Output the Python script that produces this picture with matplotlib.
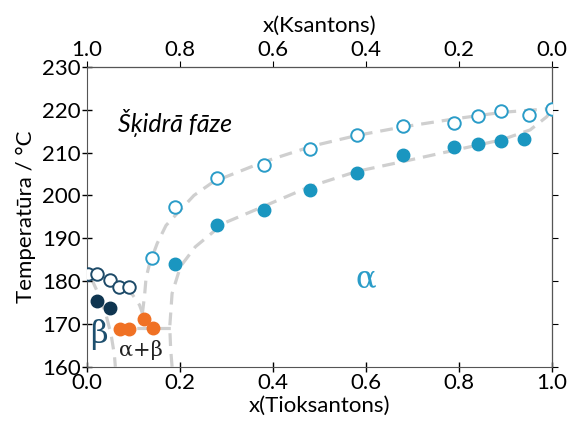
import matplotlib.pyplot as plt

# measured points
liq_alpha_x = [0.14, 0.19, 0.28, 0.38, 0.48, 0.58, 0.68, 0.79, 0.84, 0.89, 0.95, 1.00]
liq_alpha_T = [185.5, 197.3, 204.0, 207.1, 210.9, 214.0, 216.1, 216.9, 218.5, 219.7, 218.9, 220.3]
sol_alpha_x = [0.19, 0.28, 0.38, 0.48, 0.58, 0.68, 0.79, 0.84, 0.89, 0.94]
sol_alpha_T = [184.0, 193.0, 196.7, 201.2, 205.3, 209.4, 211.3, 211.9, 212.8, 213.2]
liq_beta_x = [0.003, 0.021, 0.050, 0.069, 0.090]
liq_beta_T = [181.6, 181.6, 180.2, 178.7, 178.7]
sol_beta_x = [0.021, 0.050]
sol_beta_T = [175.3, 173.8]
eut_x = [0.071, 0.091, 0.122, 0.141]
eut_T = [168.7, 168.7, 171.1, 169.0]

# guide curves
curveA_x = [0.119, 0.124, 0.127, 0.134, 0.151, 0.170, 0.194, 0.230, 0.272, 0.379, 0.487, 0.580, 0.679, 0.792, 0.892, 1.0]
curveA_T = [172.3, 176.8, 180.7, 183.8, 188.8, 193.0, 195.8, 200.0, 203.2, 207.8, 211.6, 214.0, 216.0, 217.9, 219.4, 220.3]
curveB_x = [0.183, 0.180, 0.178, 0.183, 0.201, 0.233, 0.294, 0.379, 0.480, 0.580, 0.679, 0.792, 0.892, 0.953, 0.989, 1.0]
curveB_T = [160.0, 164.0, 169.3, 177.1, 183.4, 188.0, 193.5, 197.4, 202.1, 205.6, 207.9, 210.6, 213.0, 215.3, 218.4, 220.3]
curveC_x = [0.0, 0.040, 0.066, 0.098, 0.113, 0.120]
curveC_T = [182.0, 181.0, 179.5, 176.8, 174.4, 172.3]
curveD_x = [0.009, 0.027, 0.041, 0.052, 0.059, 0.061]
curveD_T = [180.7, 176.4, 172.1, 167.4, 162.7, 160.0]
eut_line_x = [0.063, 0.183]
eut_line_T = [169.0, 169.0]

plt.rcParams['font.family'] = ['Lato', 'DejaVu Sans']
plt.rcParams['font.size'] = 16

fig = plt.figure(figsize=(5.7, 4.25), dpi=100)
ax = fig.add_axes([0.1526, 0.1372, 0.8158, 0.7052])

dash = dict(color='#cfcfcf', lw=2.3, ls=(0, (4, 2.5)), zorder=1)
for cx, cT in [(curveA_x, curveA_T), (curveB_x, curveB_T), (curveC_x, curveC_T),
               (curveD_x, curveD_T), (eut_line_x, eut_line_T)]:
    ax.plot(cx, cT, **dash)

ax.plot(liq_alpha_x, liq_alpha_T, 'o', ms=9, mfc='white', mec='#2a9cc8', mew=1.4, ls='none', zorder=3)
ax.plot(sol_alpha_x, sol_alpha_T, 'o', ms=9, color='#1a96c0', ls='none', zorder=3)
ax.plot(liq_beta_x, liq_beta_T, 'o', ms=9, mfc='white', mec='#1d4a68', mew=1.4, ls='none', zorder=3)
ax.plot(sol_beta_x, sol_beta_T, 'o', ms=9, color='#0f3550', ls='none', zorder=3)
ax.plot(eut_x, eut_T, 'o', ms=9, color='#f07124', ls='none', zorder=3)

ax.text(0.067, 217.0, 'Šķidrā fāze', fontsize=18, style='italic', va='center', ha='left')
ax.text(0.60, 180.5, 'α', fontsize=22, color='#2a9cc8', ha='center', va='center', family='DejaVu Serif')
ax.text(0.025, 167.5, 'β', fontsize=22, color='#1d4f6e', ha='center', va='center', family='DejaVu Serif')
ax.text(0.115, 164.0, 'α+β', fontsize=15, color='#222222', ha='center', va='center', family='DejaVu Serif')

ax.set_xlim(0, 1)
ax.set_ylim(160, 230)
ax.set_xticks([0, 0.2, 0.4, 0.6, 0.8, 1.0])
ax.set_yticks(range(160, 231, 10))
ax.tick_params(axis='both', direction='inout', length=7, width=1, pad=1)
ax.set_xlabel('x(Tioksantons)', labelpad=2)
ax.set_ylabel('Temperatūra / °C', labelpad=4)
for s in ax.spines.values():
    s.set_color('#555555')

right = ax.secondary_yaxis('right')
right.set_yticks(range(160, 231, 10))
right.tick_params(direction='out', length=4, labelright=False)

top = ax.secondary_xaxis('top', functions=(lambda v: 1 - v, lambda v: 1 - v))
top.set_xticks([1.0, 0.8, 0.6, 0.4, 0.2, 0.0])
top.tick_params(direction='out', length=4, pad=1)
top.set_xlabel('x(Ksantons)', labelpad=6)

fig.savefig('out.png', dpi=100)
